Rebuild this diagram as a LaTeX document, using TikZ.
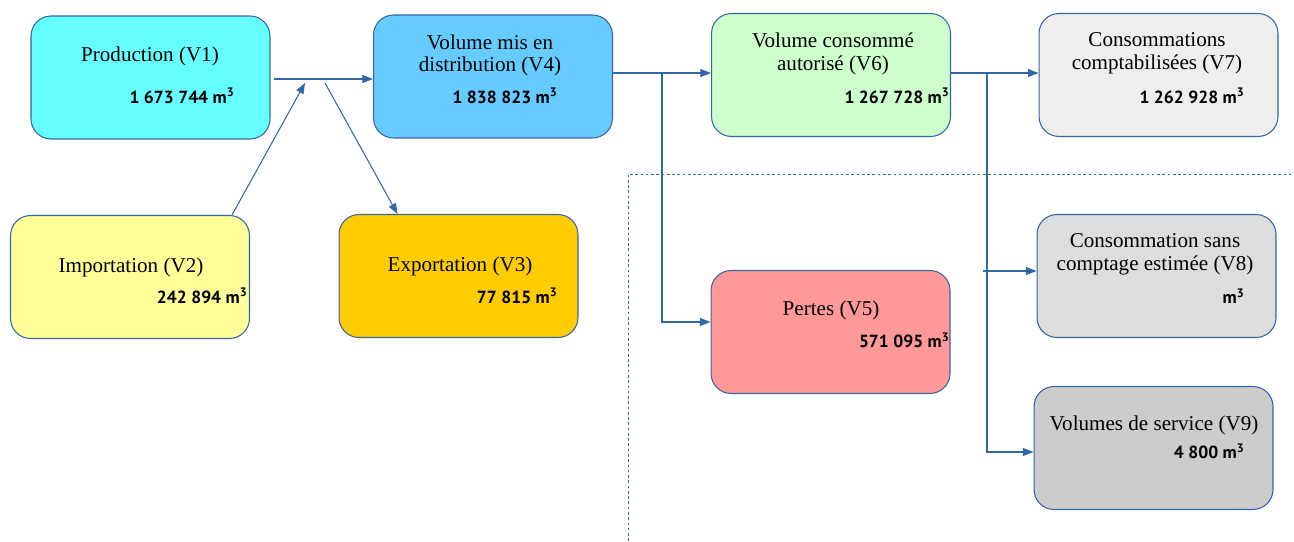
\documentclass[tikz,border=0pt]{standalone}
\usepackage{fontspec}
\setmainfont{Liberation Serif}
\newfontfamily\valfont{PT Sans}
\usepackage{tikz}
\usetikzlibrary{calc, arrows.meta}

\definecolor{lineblue}{HTML}{3465A4}
\definecolor{prodcyan}{HTML}{66FFFF}
\definecolor{distblue}{HTML}{66CCFF}
\definecolor{impyellow}{HTML}{FFFF99}
\definecolor{expgold}{HTML}{FFCC00}
\definecolor{consgreen}{HTML}{CCFFCC}
\definecolor{lossred}{HTML}{FF9999}
\definecolor{grayA}{HTML}{EEEEEE}
\definecolor{grayB}{HTML}{DDDDDD}
\definecolor{grayC}{HTML}{CCCCCC}

\newcommand{\cubic}{m\textsuperscript{3}}

\begin{document}
\begin{tikzpicture}[x = 0.02cm, y = -0.02cm,
		box/.style = {draw = lineblue, line width = 0.6pt, rounded corners = 0.4cm,
			minimum width = 4.78cm, minimum height = 2.46cm, inner sep = 0pt},
		title/.style = {font = \fontsize{12}{13}\selectfont, align = center, inner sep = 0pt},
		value/.style = {font = \valfont\bfseries\fontsize{10}{12}\selectfont, anchor = east, inner sep = 0pt},
		flow/.style = {draw = lineblue, line width = 0.6pt, -{Triangle[length = 6pt, width = 4.5pt]}}]
	\useasboundingbox (0,0) rectangle (1294,541);

	% boundary of the network
	\draw [lineblue, line width = 0.5pt, dash pattern = on 1.5pt off 1.5pt] (628,541) -- (628,174) -- (1294,174);

	\begin{scope}
		\node [box, fill = prodcyan] (v1) at (150.5,77.5) {};
		\node [title] (v1t) at (150,56) {Production (V1)};
		\node [value] (v1v) at (235,96) {1 673 744 \cubic};

		\node [box, fill = impyellow] (v2) at (130,277) {};
		\node [title] (v2t) at (131,267) {Importation (V2)};
		\node [value] (v2v) at (248,296) {242 894 \cubic};

		\node [box, fill = expgold] (v3) at (458.5,276) {};
		\node [title] (v3t) at (460,266) {Exportation (V3)};
		\node [value] (v3v) at (558,296) {77 815 \cubic};

		\node [box, fill = distblue] (v4) at (493,76.5) {};
		\node [title] (v4t) at (490,55.5) {Volume mis en\\distribution (V4)};
		\node [value] (v4v) at (558,96) {1 838 823 \cubic};
	\end{scope}

	\begin{scope}
		\node [box, fill = consgreen] (v6) at (831,75) {};
		\node [title] (v6t) at (833,53.5) {Volume consommé\\autorisé (V6)};
		\node [value] (v6v) at (950,96) {1 267 728 \cubic};

		\node [box, fill = lossred] (v5) at (830.5,332) {};
		\node [title] (v5t) at (831,310) {Pertes (V5)};
		\node [value] (v5v) at (950,340) {571 095 \cubic};

		\node [box, fill = grayA] (v7) at (1158.5,75) {};
		\node [title] (v7t) at (1157,53.5) {Consommations\\comptabilisées (V7)};
		\node [value] (v7v) at (1245,96) {1 262 928 \cubic};

		\node [box, fill = grayB] (v8) at (1156.5,276) {};
		\node [title] (v8t) at (1155,254) {Consommation sans\\comptage estimée (V8)};
		\node [value] (v8v) at (1245,296) {\cubic};

		\node [box, fill = grayC] (v9) at (1153.5,448) {};
		\node [title] (v9t) at (1154,425) {Volumes de service (V9)};
		\node [value] (v9v) at (1245,451) {4 800 \cubic};
	\end{scope}

	% flows
	\coordinate (jin) at (305,83);
	\coordinate (jout) at (325,83);
	\coordinate (split) at (662,73);
	\coordinate (usage) at (987,73);
	\coordinate (nocount) at (983,271);

	\begin{scope}
		\draw [flow] ($(v1.east)+(3,1.5)$) -- ($(v4.west)+(0,2.5)$);
		\draw [flow] ($(v2.north east)+(-18,0)$) -- (jin);
		\draw [flow] (jout) -- ($(v3.north west)+(59,0)$);
		\draw [flow] ($(v4.east)+(0,-3.5)$) -- (split -| v6.west);
		\draw [flow] (split) |- ($(v5.west)+(0,-10)$);
		\draw [flow] ($(v6.east)+(0,-2)$) -- (usage -| v7.west);
		\draw [flow] (usage) |- ($(v9.west)+(0,4)$);
		\draw [flow] (nocount) -- (nocount -| v8.west);
	\end{scope}
\end{tikzpicture}
\end{document}
